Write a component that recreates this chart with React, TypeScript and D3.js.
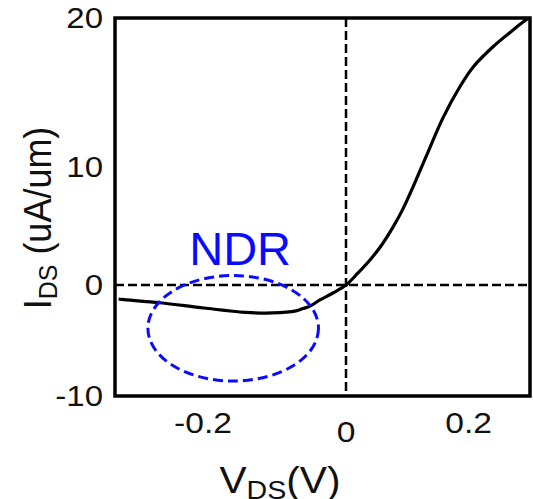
import React from "react";
import * as d3 from "d3";

// ---- data ----
const vds: number[] = [-0.318, -0.3132, -0.26, -0.1986, -0.141, -0.1028, -0.0699, -0.0601, -0.0503, -0.0364, -0.0182, 0, 0.0196, 0.0391, 0.0582, 0.0766, 0.0929, 0.1092, 0.1316, 0.1581, 0.1859, 0.2071, 0.2397, 0.2723, 0.2946, 0.3];
const ids: number[] = [-1.26, -1.3, -1.6, -2.07, -2.46, -2.52, -2.33, -2.12, -1.9, -1.35, -0.72, 0.0, 1.02, 2.12, 3.39, 4.9, 6.45, 8.3, 10.8, 13.3, 15.4, 16.7, 18.07, 19.19, 19.91, 20.0];
const xTicks: number[] = [-0.2, 0, 0.2];
const xTickLabels: string[] = ["-0.2", "0", "0.2"];
const yTicks: number[] = [-10, 0, 10, 20];
const yTickLabels: string[] = ["-10", "0", "10", "20"];
// NDR annotation region (data units)
const ndrX: number[] = [-0.277, -0.0385];
const ndrY: number[] = [-8.65, 0.8];
const ndrLabelPos: number[] = [-0.148, 1.7];
const ndrLabel = "NDR";

const W = 533;
const H = 499;
const FONT = "'Liberation Sans', Arial, Helvetica, sans-serif";
const BLUE = "#0a0aff";

export default function App() {
  const left = 115, right = 530, top = 18, bottom = 396;
  // the original figure is not uniformly scaled; piecewise linear scales reproduce it
  const x = d3.scaleLinear().domain([-0.323, 0, 0.3]).range([left, 346, right]);
  const y = d3.scaleLinear().domain([-10, 0, 10, 20]).range([bottom, 285, 167, top]);

  const pts = vds.map((v, i) => [v, ids[i]] as [number, number]);
  const line = d3
    .line<[number, number]>()
    .x((d) => x(d[0]))
    .y((d) => y(d[1]))
    .curve(d3.curveCatmullRom.alpha(0.5));

  const ex0 = x(ndrX[0]), ex1 = x(ndrX[1]);
  const ey0 = y(ndrY[1]), ey1 = y(ndrY[0]);

  return (
    <svg
      width={W}
      height={H}
      viewBox={`0 0 ${W} ${H}`}
      style={{ position: "absolute", left: 0, top: 0, background: "#fff" }}
      fontFamily={FONT}
    >
      <rect x={0} y={0} width={W} height={H} fill="#fff" />
      <defs>
        <clipPath id="plot">
          <rect x={left} y={top} width={right - left} height={bottom - top} />
        </clipPath>
      </defs>

      {/* zero reference lines */}
      <line x1={left} x2={right} y1={y(0)} y2={y(0)} stroke="#000" strokeWidth={2.5} strokeDasharray="9,4" />
      <line x1={x(0)} x2={x(0)} y1={top} y2={bottom} stroke="#000" strokeWidth={2.5} strokeDasharray="9,4" />

      {/* curve */}
      <path d={line(pts) || ""} fill="none" stroke="#000" strokeWidth={3.2} clipPath="url(#plot)" />

      {/* NDR annotation */}
      <ellipse
        cx={(ex0 + ex1) / 2}
        cy={(ey0 + ey1) / 2}
        rx={(ex1 - ex0) / 2}
        ry={(ey1 - ey0) / 2}
        fill="none"
        stroke={BLUE}
        strokeWidth={3}
        strokeDasharray="10,5"
      />
      <text
        x={x(ndrLabelPos[0])}
        y={y(ndrLabelPos[1])}
        textAnchor="middle"
        fontSize={47}
        fill={BLUE}
      >
        {ndrLabel}
      </text>

      {/* frame */}
      <rect x={left} y={top} width={right - left} height={bottom - top} fill="none" stroke="#000" strokeWidth={3.5} />

      {/* y tick labels */}
      {yTicks.map((t, i) => (
        <text
          key={"y" + i}
          transform={`translate(103,${y(t)}) scale(1.1,1)`}
          textAnchor="end"
          dominantBaseline="central"
          fontSize={30}
          fill="#111"
        >
          {yTickLabels[i]}
        </text>
      ))}

      {/* x tick labels */}
      {xTicks.map((t, i) => (
        <text
          key={"x" + i}
          transform={`translate(${x(t)},${t === 0 ? 442 : 433}) scale(1.12,1)`}
          textAnchor="middle"
          fontSize={30}
          fill="#111"
        >
          {xTickLabels[i]}
        </text>
      ))}

      {/* x axis label */}
      <text transform={`translate(280,493) scale(1.1,1)`} textAnchor="middle" fontSize={37} fill="#111">
        V
        <tspan fontSize={26} dy={6}>DS</tspan>
        <tspan dy={-6}>(V)</tspan>
      </text>

      {/* y axis label */}
      <text transform={`translate(51,218) scale(1.06,1) rotate(-90)`} textAnchor="middle" fontSize={36} fill="#111">
        I
        <tspan fontSize={25} dy={6}>DS</tspan>
        <tspan dy={-6}> (uA/um)</tspan>
      </text>
    </svg>
  );
}
